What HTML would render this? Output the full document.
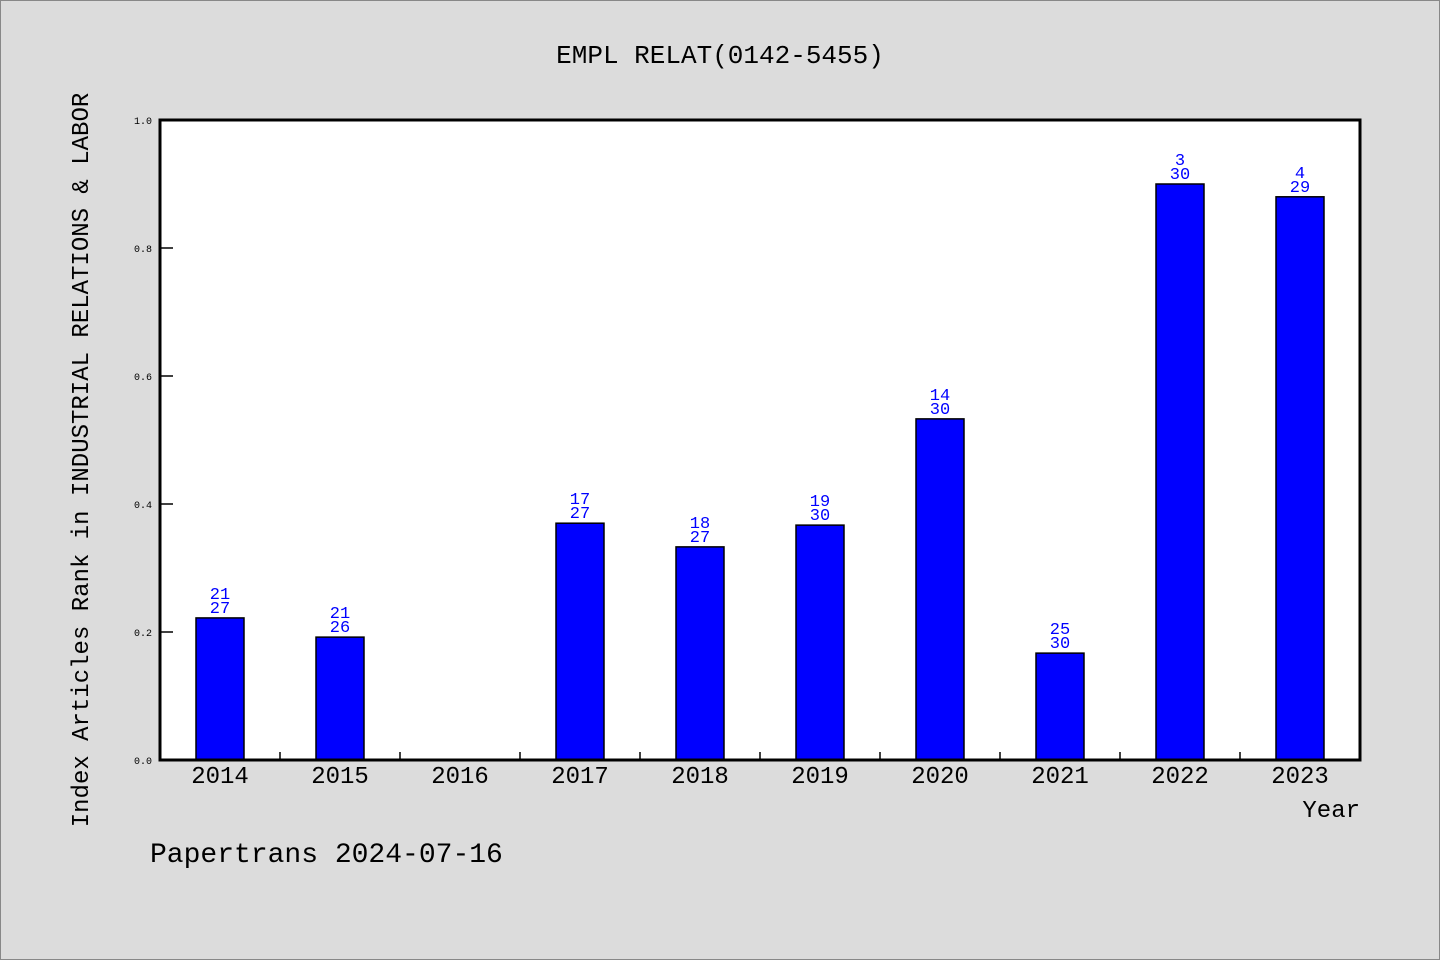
<!DOCTYPE html>
<html><head><meta charset="utf-8"><style>
html,body{margin:0;padding:0;background:#dcdcdc;}
svg{display:block;}
text{font-family:"Liberation Mono","DejaVu Sans Mono",monospace;}
</style></head><body>
<svg width="1440" height="960" xmlns="http://www.w3.org/2000/svg">
<rect x="0.5" y="0.5" width="1439" height="959" fill="#dcdcdc" stroke="#888"/>
<text x="720" y="63" font-size="26" text-anchor="middle" fill="#000">EMPL RELAT(0142-5455)</text>
<rect x="160" y="120" width="1200" height="640" fill="#fff"/>
<g id="bars"></g>
<g id="axes"></g>
<rect x="160" y="120" width="1200" height="640" fill="none" stroke="#000" stroke-width="3"/>
<text transform="translate(88,460) rotate(-90)" font-size="24" text-anchor="middle" fill="#000">Index Articles Rank in INDUSTRIAL RELATIONS &amp; LABOR</text>
<text x="1360" y="817" font-size="24" text-anchor="end" fill="#000">Year</text>
<text x="150" y="862" font-size="28" fill="#000">Papertrans 2024-07-16</text>
</svg>
<script>
const categories = ["2014","2015","2016","2017","2018","2019","2020","2021","2022","2023"];
const values = [0.222,0.192,null,0.370,0.333,0.367,0.533,0.167,0.900,0.880];
const ranks = ["21","21","","17","18","19","14","25","3","4"];
const totals = ["27","26","","27","27","30","30","30","30","29"];
const yTicks = [0,0.2,0.4,0.6,0.8,1.0];
const yTickLabels = ["0.0","0.2","0.4","0.6","0.8","1.0"];

const NS="http://www.w3.org/2000/svg";
const X0=160,X1=1360,Y0=760,Y1=120;
const band=(X1-X0)/categories.length;
const xc=i=>X0+band*(i+0.5);
const y=v=>Y0-(Y0-Y1)*v;
function mk(tag,attrs,parent){const e=document.createElementNS(NS,tag);for(const k in attrs)e.setAttribute(k,attrs[k]);parent.appendChild(e);return e;}
const gb=document.getElementById('bars'),ga=document.getElementById('axes');
categories.forEach((c,i)=>{
  const v=values[i];
  if(v!==null){
    const r=mk('rect',{x:xc(i)-24,y:y(v),width:48,height:Y0-y(v),fill:'#0000ff',stroke:'#000','stroke-width':1.5},gb);
    
    
    const t1=mk('text',{x:xc(i),y:y(v)-19,'font-size':17,'text-anchor':'middle',fill:'#0000ff'},gb);
    t1.textContent=ranks[i];
    
    
    const t2=mk('text',{x:xc(i),y:y(v)-5,'font-size':17,'text-anchor':'middle',fill:'#0000ff'},gb);
    t2.textContent=totals[i];
    
    
  }
  const lt=mk('text',{x:xc(i),y:783,'font-size':24,'text-anchor':'middle',fill:'#000'},ga);
  lt.textContent=c;
  
  
  if(i>0){
    const tk=mk('line',{x1:X0+band*i,x2:X0+band*i,y1:Y0,y2:Y0-8,stroke:'#000','stroke-width':1.5},ga);
    
    
  }
});
yTicks.forEach((t,i)=>{
  const ln=mk('line',{x1:X0,x2:X0+13,y1:y(t),y2:y(t),stroke:'#000','stroke-width':1.5},ga);
  
  
  const tx=mk('text',{x:152,y:y(t)+4,'font-size':10,'text-anchor':'end',fill:'#000'},ga);
  tx.textContent=yTickLabels[i];
  
  
});
</script>
</body></html>
